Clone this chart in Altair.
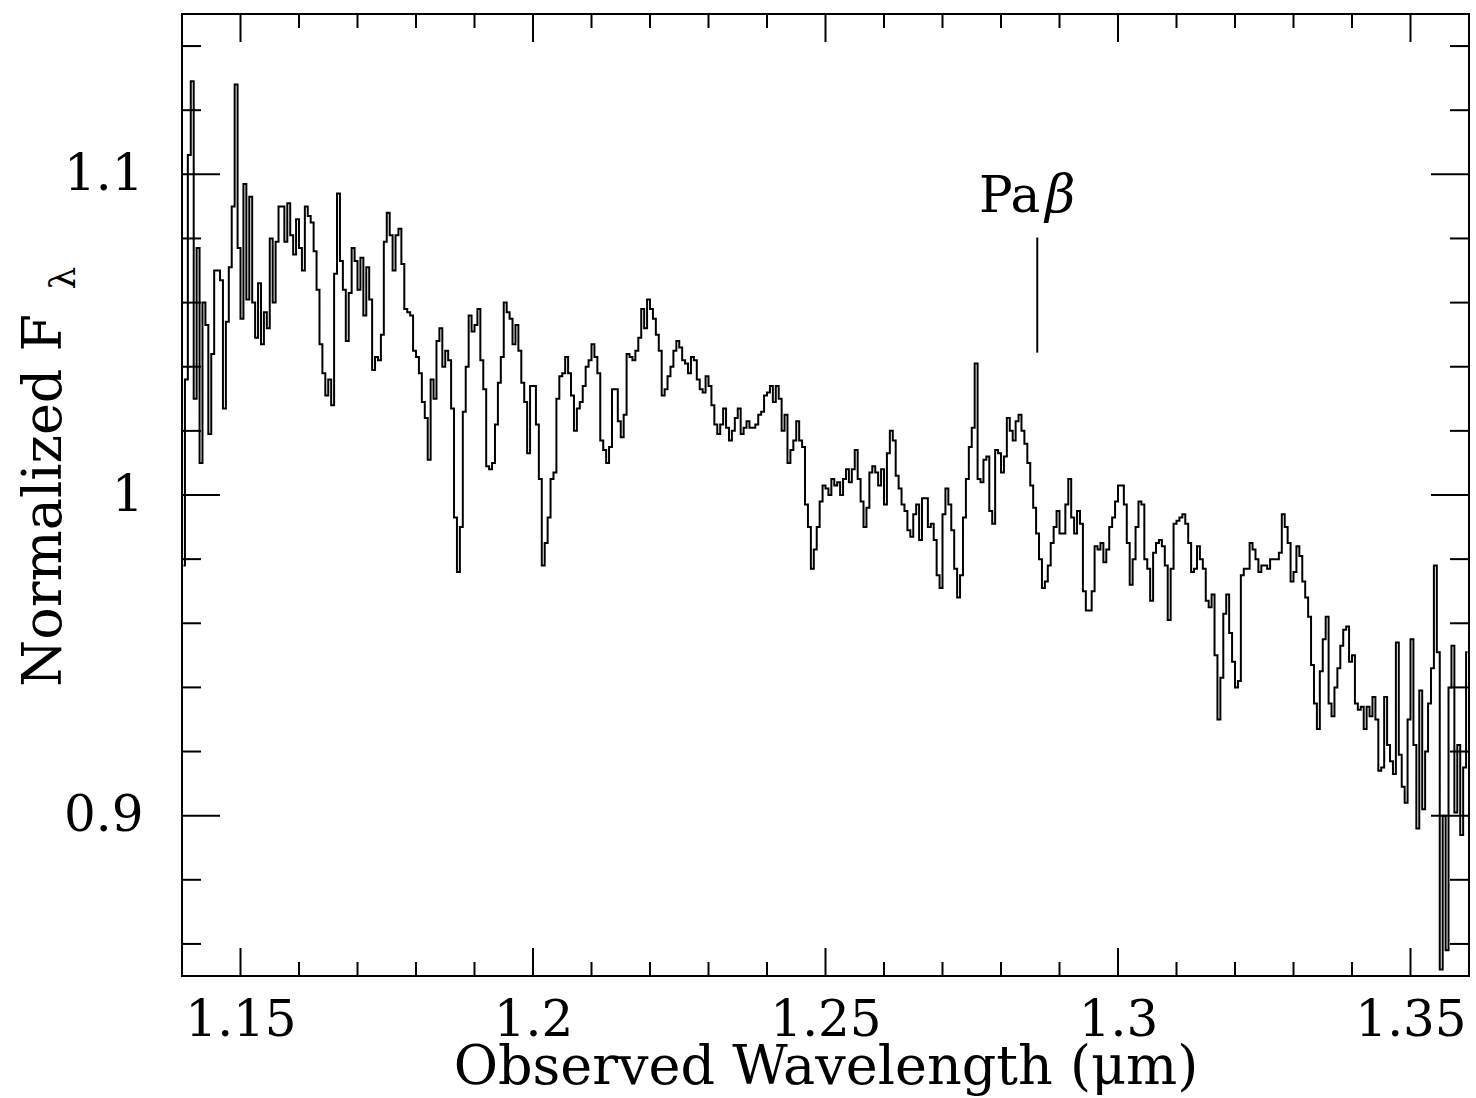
import altair as alt
import pandas as pd

# Normalized spectrum, sampled on a regular 0.0005 micron grid starting at 1.14025
flux = [
    0.978, 1.036, 1.106, 1.129, 1.030, 1.077, 1.010, 1.060, 1.053, 1.019,
    1.044, 1.070, 1.070, 1.067, 1.027, 1.054, 1.071, 1.090, 1.128, 1.077,
    1.055, 1.097, 1.061, 1.093, 1.060, 1.049, 1.066, 1.047, 1.057, 1.052,
    1.080, 1.060, 1.079, 1.090, 1.090, 1.079, 1.091, 1.081, 1.075, 1.086,
    1.077, 1.070, 1.090, 1.087, 1.085, 1.076, 1.064, 1.047, 1.038, 1.031,
    1.036, 1.028, 1.069, 1.094, 1.073, 1.064, 1.048, 1.063, 1.077, 1.073,
    1.064, 1.074, 1.056, 1.071, 1.061, 1.039, 1.043, 1.042, 1.050, 1.079,
    1.088, 1.081, 1.070, 1.081, 1.083, 1.072, 1.058, 1.057, 1.056, 1.045,
    1.043, 1.038, 1.029, 1.024, 1.011, 1.036, 1.030, 1.048, 1.052, 1.040,
    1.045, 1.042, 1.027, 0.993, 0.976, 0.990, 1.026, 1.040, 1.056, 1.051,
    1.053, 1.058, 1.042, 1.033, 1.009, 1.008, 1.010, 1.022, 1.035, 1.043,
    1.060, 1.057, 1.055, 1.047, 1.053, 1.045, 1.035, 1.029, 1.013, 1.034,
    1.034, 1.022, 1.005, 0.978, 0.985, 0.993, 1.005, 1.007, 1.030, 1.037,
    1.038, 1.043, 1.038, 1.031, 1.020, 1.027, 1.029, 1.034, 1.040, 1.042,
    1.047, 1.043, 1.038, 1.017, 1.014, 1.010, 1.015, 1.033, 1.033, 1.023,
    1.018, 1.025, 1.044, 1.043, 1.042, 1.045, 1.049, 1.058, 1.052, 1.061,
    1.058, 1.055, 1.050, 1.045, 1.031, 1.033, 1.037, 1.040, 1.045, 1.048,
    1.046, 1.042, 1.041, 1.038, 1.043, 1.042, 1.036, 1.033, 1.032, 1.037,
    1.034, 1.028, 1.022, 1.019, 1.022, 1.027, 1.021, 1.017, 1.020, 1.024,
    1.027, 1.019, 1.021, 1.023, 1.021, 1.021, 1.022, 1.025, 1.026, 1.031,
    1.032, 1.034, 1.029, 1.034, 1.030, 1.020, 1.025, 1.010, 1.014, 1.017,
    1.023, 1.017, 1.015, 0.997, 0.990, 0.977, 0.983, 0.990, 0.998, 1.003,
    1.002, 1.000, 1.005, 1.003, 1.004, 1.000, 1.005, 1.008, 1.004, 1.008,
    1.014, 1.005, 0.998, 0.990, 0.996, 1.007, 1.009, 1.007, 1.003, 1.008,
    0.997, 1.013, 1.020, 1.017, 1.006, 1.002, 0.997, 0.995, 0.989, 0.987,
    0.994, 0.997, 0.986, 0.999, 0.999, 0.990, 0.991, 0.986, 0.975, 0.971,
    0.994, 1.002, 0.997, 0.989, 0.977, 0.968, 0.975, 0.993, 1.005, 1.015,
    1.021, 1.041, 1.005, 1.004, 1.011, 1.012, 0.995, 0.991, 1.014, 1.013,
    1.007, 1.012, 1.024, 1.020, 1.017, 1.023, 1.025, 1.020, 1.016, 1.010,
    1.003, 0.996, 0.988, 0.980, 0.971, 0.973, 0.978, 0.985, 0.990, 0.995,
    0.988, 0.988, 0.997, 1.005, 0.993, 0.988, 0.995, 0.991, 0.970, 0.964,
    0.964, 0.970, 0.984, 0.983, 0.985, 0.979, 0.983, 0.990, 0.993, 0.998,
    1.003, 1.003, 0.997, 0.985, 0.972, 0.980, 0.990, 0.998, 0.997, 0.980,
    0.977, 0.967, 0.982, 0.985, 0.986, 0.984, 0.978, 0.961, 0.977, 0.991,
    0.992, 0.993, 0.994, 0.991, 0.985, 0.976, 0.977, 0.984, 0.980, 0.977,
    0.967, 0.965, 0.969, 0.950, 0.930, 0.943, 0.963, 0.969, 0.957, 0.948,
    0.940, 0.942, 0.975, 0.977, 0.977, 0.985, 0.983, 0.980, 0.976, 0.978,
    0.978, 0.977, 0.980, 0.980, 0.980, 0.982, 0.994, 0.990, 0.985, 0.973,
    0.976, 0.984, 0.981, 0.973, 0.968, 0.962, 0.947, 0.935, 0.927, 0.945,
    0.955, 0.962, 0.935, 0.931, 0.940, 0.946, 0.953, 0.958, 0.959, 0.948,
    0.950, 0.935, 0.933, 0.934, 0.927, 0.934, 0.931, 0.937, 0.930, 0.914,
    0.915, 0.937, 0.922, 0.917, 0.913, 0.954, 0.919, 0.909, 0.904, 0.930,
    0.955, 0.922, 0.896, 0.939, 0.902, 0.920, 0.935, 0.946, 0.978, 0.951,
    0.852, 0.900, 0.858, 0.940, 0.953, 0.901, 0.922, 0.894, 0.915, 0.951,
]
grid_start = 1.14025
grid_step = 0.0005
wavelength = [round(grid_start + grid_step * i, 5) for i in range(len(flux))]

# Axis ticks and labels
x_major = [1.15, 1.2, 1.25, 1.3, 1.35]
x_minor = [1.16, 1.17, 1.18, 1.19, 1.21, 1.22, 1.23, 1.24,
           1.26, 1.27, 1.28, 1.29, 1.31, 1.32, 1.33, 1.34]
y_major = [0.9, 1.0, 1.1]
y_minor = [0.86, 0.88, 0.92, 0.94, 0.96, 0.98, 1.02, 1.04, 1.06, 1.08, 1.12, 1.14]

# Pa-beta marker
pab_wavelength = 1.2862
pab_tick_bottom = 1.0444
pab_tick_top = 1.0803
pab_label_flux = 1.0881

W, H = 1287, 962
FONT = "DejaVu Serif"

x_scale = alt.Scale(domain=[1.14, 1.36], nice=False, zero=False)
y_scale = alt.Scale(domain=[0.85, 1.15], nice=False, zero=False)

# One axis definition shared by every layer so the merged axes stay intact
x_axis = alt.Axis(
    values=x_major, format="~g", title="Observed Wavelength (μm)",
    labelPadding=59, labelBaseline="alphabetic", labelFlush=False,
    labelOverlap=False, titleY=107, titleBaseline="alphabetic",
)
y_axis = alt.Axis(
    values=y_major, format="~g", title="Normalized F",
    labelPadding=39, labelFlush=False, labelOverlap=False,
    titleX=-122, titleY=486, titleAngle=270, titleAlign="center",
    titleBaseline="alphabetic",
)


def X(field):
    return alt.X(field, scale=x_scale, axis=x_axis)


def Y(field):
    return alt.Y(field, scale=y_scale, axis=y_axis)


spec_df = pd.DataFrame({"wavelength": wavelength, "flux": flux})

spectrum = alt.Chart(spec_df).mark_line(
    interpolate="step", color="black", strokeWidth=2, clip=True
).encode(x=X("wavelength:Q"), y=Y("flux:Q"))


def x_ticks(values, length):
    df = pd.DataFrame({"v": values})
    base = alt.Chart(df).mark_rule(color="black", strokeWidth=2)
    bottom = base.encode(x=X("v:Q"), y=alt.value(H), y2=alt.value(H - length))
    top = base.encode(x=X("v:Q"), y=alt.value(0), y2=alt.value(length))
    return [bottom, top]


def y_ticks(values, length):
    df = pd.DataFrame({"v": values})
    base = alt.Chart(df).mark_rule(color="black", strokeWidth=2)
    left = base.encode(y=Y("v:Q"), x=alt.value(0), x2=alt.value(length))
    right = base.encode(y=Y("v:Q"), x=alt.value(W), x2=alt.value(W - length))
    return [left, right]


ticks = (x_ticks(x_major, 28) + x_ticks(x_minor, 14)
         + y_ticks(y_major, 38) + y_ticks(y_minor, 19))

pab_df = pd.DataFrame({
    "wavelength": [pab_wavelength],
    "lo": [pab_tick_bottom],
    "hi": [pab_tick_top],
    "label_y": [pab_label_flux],
})

pab_line = alt.Chart(pab_df).mark_rule(color="black", strokeWidth=2).encode(
    x=X("wavelength:Q"), y=Y("lo:Q"), y2="hi:Q",
)
pab_pa = alt.Chart(pab_df).mark_text(
    text="Pa", font=FONT, fontSize=50, align="right", baseline="alphabetic",
    dx=3, color="black",
).encode(x=X("wavelength:Q"), y=Y("label_y:Q"))
pab_beta = alt.Chart(pab_df).mark_text(
    text="β", font=FONT, fontSize=52, fontStyle="italic", align="left",
    baseline="alphabetic", dx=8, color="black",
).encode(x=X("wavelength:Q"), y=Y("label_y:Q"))

# subscript lambda of the y-axis title
lam = alt.Chart(pab_df).mark_text(
    text="λ", font=FONT, fontSize=36, angle=270, align="center",
    baseline="alphabetic", color="black",
).encode(x=alt.value(-107), y=alt.value(264))

chart = alt.layer(spectrum, *ticks, pab_line, pab_pa, pab_beta, lam).properties(
    width=W, height=H,
    autosize=alt.AutoSizeParams(type="none"),
    padding={"left": 182, "top": 14, "right": 7, "bottom": 122},
    background="white",
).configure_view(
    stroke="black", strokeWidth=2,
).configure_axis(
    labelFont=FONT, titleFont=FONT, labelFontSize=50, titleFontSize=54,
    labelColor="black", titleColor="black", titleFontWeight="normal",
    domain=False, ticks=False, tickSize=0, grid=False,
)

chart.save("out.html", embed_options={"renderer": "svg", "actions": False})
